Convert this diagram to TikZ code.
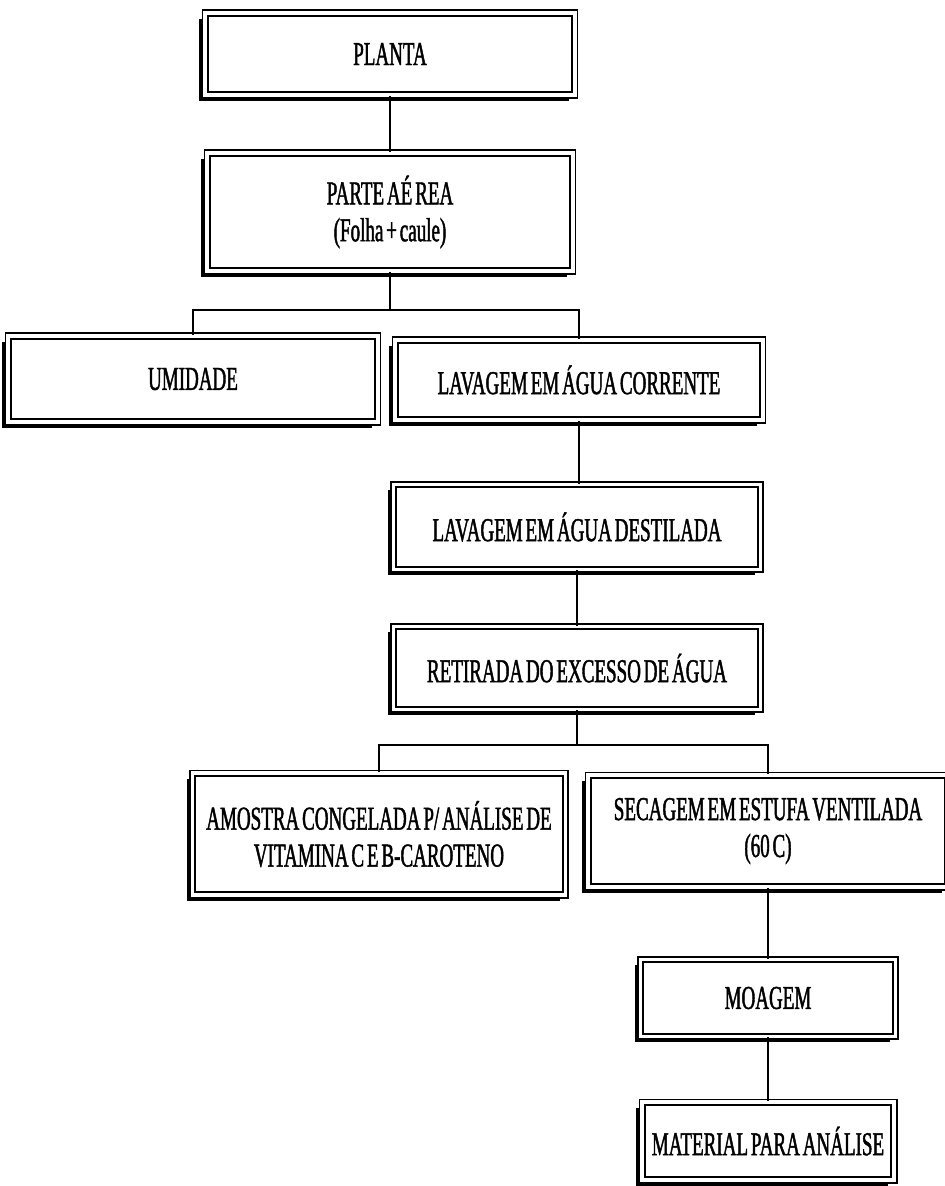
\documentclass[tikz,border=0pt]{standalone}
\usepackage{fontspec}
\setmainfont{Liberation Serif}[FakeStretch=0.57, FakeBold=1.3, WordSpace=0.6]
\usepackage{tikz}
\usetikzlibrary{positioning}
\tikzstyle{stepbox} = [rectangle, draw=black, line width=1pt, double, double distance=2pt, fill=white, text centered, align=center, inner sep=0pt, font=\fontsize{19}{21}\selectfont, preaction={fill=black, draw=none, transform canvas={xshift=-3.2pt, yshift=-3.2pt}}]
\tikzstyle{conn} = [line width=0.9pt]

\begin{document}
\begin{tikzpicture}[x=0.02cm, y=-0.02cm]
\useasboundingbox (0,0) rectangle (945,1186);
\node (plant) [stepbox, minimum width=7.4cm, minimum height=1.64cm] at (390,54) {PLANTA};
\node (parte) [stepbox, minimum width=7.32cm, minimum height=2.36cm] at (390,212) {PARTE AÉ REA\\(Folha + caule)};
\node (umid) [stepbox, minimum width=7.4cm, minimum height=1.72cm] at (193,379) {UMIDADE};
\node (corr) [stepbox, minimum width=7.36cm, minimum height=1.6cm] at (579,380) {LAVAGEM EM ÁGUA CORRENTE};
\node (dest) [stepbox, minimum width=7.34cm, minimum height=1.7cm] at (577,527) {LAVAGEM EM ÁGUA DESTILADA};
\node (retir) [stepbox, minimum width=7.34cm, minimum height=1.66cm] at (577,668) {RETIRADA DO EXCESSO DE ÁGUA};
\node (amostra) [stepbox, minimum width=7.46cm, minimum height=2.44cm] at (379,834) {AMOSTRA CONGELADA P/ ANÁLISE DE\\VITAMINA C E B-CAROTENO};
\node (secag) [stepbox, minimum width=7.2cm, minimum height=2.24cm] at (768,831) {SECAGEM EM ESTUFA VENTILADA\\(60 C)};
\node (moag) [stepbox, minimum width=5.1cm, minimum height=1.54cm] at (768,998) {MOAGEM};
\node (mater) [stepbox, minimum width=5.04cm, minimum height=1.56cm] at (768,1141) {MATERIAL PARA ANÁLISE};

\coordinate (fork1) at (390,310);
\coordinate (fork2) at (577,745);

\draw [conn] (plant) -- (parte);
\draw [conn] (parte.south) -- (fork1);
\draw [conn] (umid.north) |- (fork1) -| (corr.north);
\draw [conn] (corr.south) -- (corr.south |- dest.north);
\draw [conn] (dest) -- (retir);
\draw [conn] (retir.south) -- (fork2);
\draw [conn] (amostra.north) |- (fork2) -| (secag.north);
\draw [conn] (secag) -- (moag);
\draw [conn] (moag) -- (mater);
\end{tikzpicture}
\end{document}
